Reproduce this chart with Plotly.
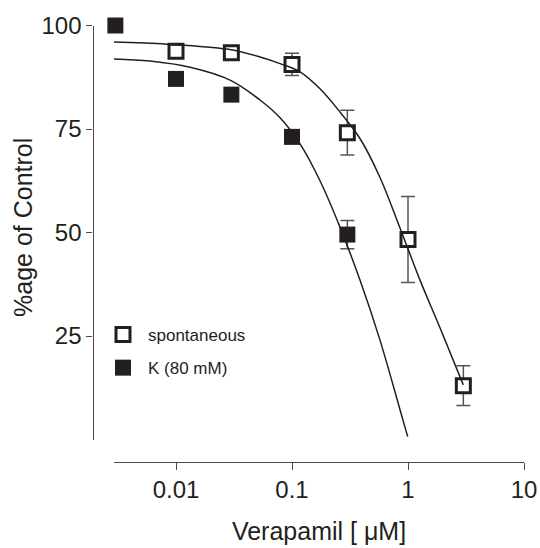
import plotly.graph_objects as go

# ---- data ----
conc_spont = [0.01, 0.03, 0.1, 0.3, 1, 3]
resp_spont = [93.8, 93.4, 90.6, 74.1, 48.3, 13.0]
err_spont = [None, None, 2.7, 5.4, 10.4, 4.8]

conc_k = [0.003, 0.01, 0.03, 0.1, 0.3]
resp_k = [100.0, 87.1, 83.3, 73.1, 49.5]
err_k = [None, None, None, None, 3.4]

# fitted curves
fit_spont_x = [0.00292, 0.00832, 0.02735, 0.0530, 0.0789, 0.1173, 0.1743, 0.2592,
               0.3855, 0.5734, 0.8531, 1.269, 1.887, 2.997]
fit_spont_y = [96.0, 95.5, 94.3, 92.4, 90.8, 88.8, 84.7, 79.1,
               72.7, 63.3, 51.1, 38.5, 27.0, 13.2]

fit_k_x = [0.00292, 0.00597, 0.01321, 0.02924, 0.0530, 0.0789, 0.1173, 0.1743,
           0.2592, 0.3855, 0.5734, 0.8531, 0.994]
fit_k_y = [91.9, 91.4, 89.9, 86.8, 82.0, 77.7, 71.4, 62.5,
           51.3, 38.5, 24.0, 7.2, 0.7]

x_tick_vals = [0.01, 0.1, 1, 10]
x_tick_text = ["0.01", "0.1", "1", "10"]
y_tick_vals = [25, 50, 75, 100]

series_names = ["spontaneous", "K (80 mM)"]
x_title = "Verapamil [ μM]"
y_title = "%age of Control"

# ---- styling ----
INK = "#231f20"
AXIS = "#4a4a4a"
FONT = "Liberation Sans, Arial, sans-serif"
W, H = 540, 548

fig = go.Figure()

fig.add_trace(go.Scatter(
    x=conc_spont, y=resp_spont, mode="markers", name=series_names[0],
    legendgroup="g0",
    marker=dict(symbol="square", size=14, color="white",
                line=dict(color=INK, width=3)),
    error_y=dict(type="data", array=err_spont, visible=True,
                 color="#555555", thickness=1.5, width=7),
    cliponaxis=False,
))
fig.add_trace(go.Scatter(
    x=conc_k, y=resp_k, mode="markers", name=series_names[1],
    legendgroup="g1",
    marker=dict(symbol="square", size=16, color=INK, line=dict(width=0)),
    error_y=dict(type="data", array=err_k, visible=True,
                 color="#555555", thickness=1.5, width=7),
    cliponaxis=False,
))
fig.add_trace(go.Scatter(
    x=fit_spont_x, y=fit_spont_y, mode="lines", showlegend=False,
    line=dict(color=INK, width=1.5, shape="spline", smoothing=1.0),
    cliponaxis=False, hoverinfo="skip",
))
fig.add_trace(go.Scatter(
    x=fit_k_x, y=fit_k_y, mode="lines", showlegend=False,
    line=dict(color=INK, width=1.5, shape="spline", smoothing=1.0),
    cliponaxis=False, hoverinfo="skip",
))

fig.update_layout(
    width=W, height=H,
    margin=dict(l=0, r=0, t=0, b=0, pad=0),
    paper_bgcolor="white", plot_bgcolor="white",
    font=dict(family=FONT, color=INK),
    showlegend=True,
    legend=dict(x=98 / W, y=1 - 317 / H, xanchor="left", yanchor="top",
                font=dict(size=17, color=INK), bgcolor="rgba(0,0,0,0)",
                tracegroupgap=8, traceorder="grouped", itemwidth=40),
    xaxis=dict(
        type="log", range=[-2.5346, 1.0],
        domain=[114 / W, 524 / W], anchor="free", position=1 - 461.5 / H,
        showline=True, linecolor=AXIS, linewidth=1.3, mirror=False,
        ticks="outside", ticklen=7, tickwidth=1.3, tickcolor=AXIS,
        tickmode="array", tickvals=x_tick_vals, ticktext=x_tick_text,
        tickfont=dict(size=24, color=INK),
        showgrid=False, zeroline=False, automargin=False,
        title=dict(text=x_title, font=dict(size=25, color=INK), standoff=20),
    ),
    yaxis=dict(
        range=[0, 100],
        domain=[1 - 439.5 / H, 1 - 25.5 / H], anchor="free", position=92.5 / W,
        showline=True, linecolor=AXIS, linewidth=1.3, mirror=False,
        ticks="outside", ticklen=6, tickwidth=1.3, tickcolor=AXIS,
        tickmode="array", tickvals=y_tick_vals,
        tickfont=dict(size=24, color=INK),
        showgrid=False, zeroline=False, automargin=False,
    ),
    annotations=[dict(
        text=y_title, xref="paper", yref="paper",
        x=23 / W, y=1 - 228 / H, xanchor="center", yanchor="middle",
        textangle=-90, showarrow=False, font=dict(size=25, color=INK),
    )],
)

fig.write_html(
    "out.html",
    config={"displayModeBar": False},
    post_script="document.body.style.margin='0';document.body.style.overflow='hidden';",
)
